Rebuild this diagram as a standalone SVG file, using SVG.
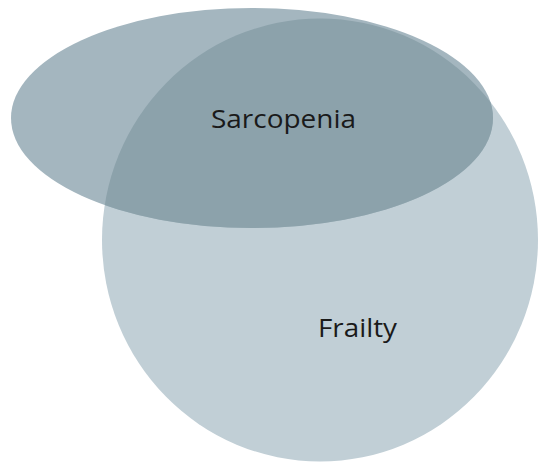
<svg xmlns="http://www.w3.org/2000/svg" width="539" height="462" viewBox="0 0 539 462">
  <style>
    .lbl { font-family: "Open Sans", "Noto Sans", "Liberation Sans", sans-serif; font-size: 25px; fill: #1a1a1a; text-anchor: middle; }
  </style>
  <defs>
    <clipPath id="ellClip">
      <ellipse cx="252" cy="118" rx="241" ry="110"/>
    </clipPath>
  </defs>
  <rect width="539" height="462" fill="#ffffff"/>
  <g id="frailty">
    <ellipse cx="320" cy="240" rx="218" ry="221.5" fill="#c1cfd6"/>
  </g>
  <g id="sarcopenia">
    <ellipse cx="252" cy="118" rx="241" ry="110" fill="#a4b6bf"/>
  </g>
  <g id="overlap">
    <ellipse cx="320" cy="240" rx="218" ry="221.5" fill="#8ca2ab" clip-path="url(#ellClip)"/>
  </g>
  <g id="labels">
    <text class="lbl" x="283.5" y="128" textLength="145" lengthAdjust="spacingAndGlyphs">Sarcopenia</text>
    <text class="lbl" x="357.5" y="337" textLength="79" lengthAdjust="spacingAndGlyphs">Frailty</text>
  </g>
</svg>
